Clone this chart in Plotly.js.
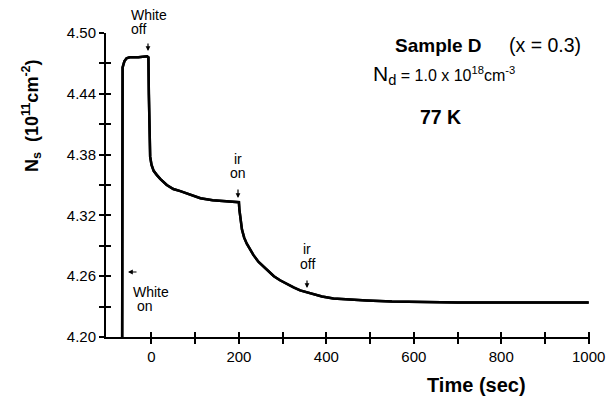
<!DOCTYPE html>
<html><head><meta charset="utf-8">
<script src="https://cdn.plot.ly/plotly-3.0.1.min.js"></script>
<style>html,body{margin:0;padding:0;background:#fff;}#chart{width:606px;height:398px;}</style>
</head><body><div id="chart"></div>
<script>
// Data (time in sec, Ns in 1e11 cm^-2)
const timeSec = [-67, -67, -66, -62, -57, -50, -30, -10, -7, -6, -5, -3, 0, 5, 12, 20, 35, 50, 66, 90, 112, 140, 170, 200, 201, 203, 207, 212, 218, 225, 233, 245, 264, 280, 294, 310, 325, 340, 355, 370, 390, 416, 450, 492, 550, 600, 644, 700, 800, 900, 1000];
const nsValues = [4.20, 4.40, 4.466, 4.472, 4.475, 4.476, 4.476, 4.477, 4.476, 4.44, 4.40, 4.378, 4.370, 4.364, 4.360, 4.356, 4.350, 4.346, 4.344, 4.340, 4.337, 4.335, 4.334, 4.333, 4.326, 4.318, 4.306, 4.298, 4.292, 4.287, 4.281, 4.274, 4.266, 4.260, 4.256, 4.252, 4.249, 4.246, 4.244, 4.242, 4.240, 4.238, 4.237, 4.236, 4.235, 4.2345, 4.234, 4.234, 4.234, 4.234, 4.234];
const xTickVals = [0, 100, 200, 300, 400, 500, 600, 700, 800, 900, 1000];
const xTickText = ['0', '', '200', '', '400', '', '600', '', '800', '', '1000'];
const yTickVals = [4.20, 4.23, 4.26, 4.29, 4.32, 4.35, 4.38, 4.41, 4.44, 4.47, 4.50];
const yTickText = ['4.20', '', '4.26', '', '4.32', '', '4.38', '', '4.44', '', '4.50'];

const L = 106, T = 33, W = 484, H = 304;
const px = v => (v - L) / W;
const py = v => (T + H - v) / H;
const FONT = 'Liberation Sans, Arial, sans-serif';

function txt(text, x, y, size, opts) {
  return Object.assign({text: text, xref: 'paper', yref: 'paper', x: px(x), y: py(y),
    xanchor: 'center', yanchor: 'middle', showarrow: false,
    font: {family: FONT, size: size, color: '#000'}}, opts || {});
}
function arrow(x1, y1, x2, y2) {
  return {text: '', xref: 'paper', yref: 'paper', x: px(x2), y: py(y2),
    axref: 'pixel', ayref: 'pixel', ax: x1 - x2, ay: y1 - y2,
    showarrow: true, arrowhead: 2, arrowsize: 0.8, arrowwidth: 1.2, arrowcolor: '#000'};
}

const annotations = [
  txt('<b>Sample D</b>', 393, 45, 19, {xanchor: 'left'}),
  txt('(x = 0.3)', 507, 45, 19.5, {xanchor: 'left'}),
  txt('N<sub>d</sub><span style="font-size:16px"> = 1.0 x 10<sup>18</sup>cm<sup>-3</sup></span>', 371, 75, 21, {xanchor: 'left'}),
  txt('<b>77 K</b>', 418, 117, 19.5, {xanchor: 'left'}),
  txt('White', 129, 15, 14, {xanchor: 'left'}),
  txt('off', 129, 29, 14, {xanchor: 'left'}),
  arrow(148, 42, 148, 51),
  txt('ir', 238, 159, 14),
  txt('on', 238, 173, 14),
  arrow(238, 188, 238, 198),
  txt('ir', 307, 249, 14),
  txt('off', 307, 264, 14),
  arrow(307, 279, 307, 288),
  arrow(138, 272, 128, 272),
  txt('White', 131, 292, 14, {xanchor: 'left'}),
  txt('on', 135, 306, 14, {xanchor: 'left'}),
  txt('<b>Time (sec)</b>', 476, 385, 20),
  txt('<b>N<sub>s</sub>  (10<sup>11</sup>cm<sup>-2</sup>)</b>', 31, 116, 18, {textangle: -90})
];

const axisCommon = {showgrid: false, zeroline: false, showline: true, linecolor: '#000', linewidth: 2,
  ticks: 'outside', ticklen: 5, tickwidth: 2, tickcolor: '#000',
  tickfont: {family: FONT, size: 15, color: '#000'}};

const traces = [
  {x: timeSec, y: nsValues, mode: 'lines', line: {color: '#000', width: 2.5}, hoverinfo: 'skip'},
  {x: timeSec, y: nsValues, xaxis: 'x2', yaxis: 'y2', mode: 'lines', line: {color: '#000', width: 2.5}, hoverinfo: 'skip'}
];

const layout = {
  width: 606, height: 398, margin: {l: L, t: T, r: 606 - L - W, b: 398 - T - H},
  paper_bgcolor: '#fff', plot_bgcolor: '#fff', showlegend: false,
  xaxis: Object.assign({}, axisCommon, {range: [-104, 1003], tickvals: xTickVals, ticktext: xTickText}),
  yaxis: Object.assign({}, axisCommon, {range: [4.20, 4.50], tickvals: yTickVals, ticktext: yTickText}),
  xaxis2: {overlaying: 'x', anchor: 'y2', side: 'bottom', range: [-104, 1003], showgrid: false, zeroline: false,
    showline: true, linecolor: '#000', linewidth: 2, ticks: 'inside', ticklen: 5, tickwidth: 2, tickcolor: '#000',
    tickmode: 'array', tickvals: xTickVals, ticktext: xTickText, showticklabels: false},
  yaxis2: {overlaying: 'y', anchor: 'x2', side: 'left', range: [4.20, 4.50], showgrid: false, zeroline: false,
    showline: true, linecolor: '#000', linewidth: 2, ticks: 'inside', ticklen: 5, tickwidth: 2, tickcolor: '#000',
    tickmode: 'array', tickvals: yTickVals, ticktext: yTickText, showticklabels: false},
  annotations: annotations
};

Plotly.newPlot('chart', traces, layout, {displayModeBar: false, staticPlot: true});
</script>
</body></html>
